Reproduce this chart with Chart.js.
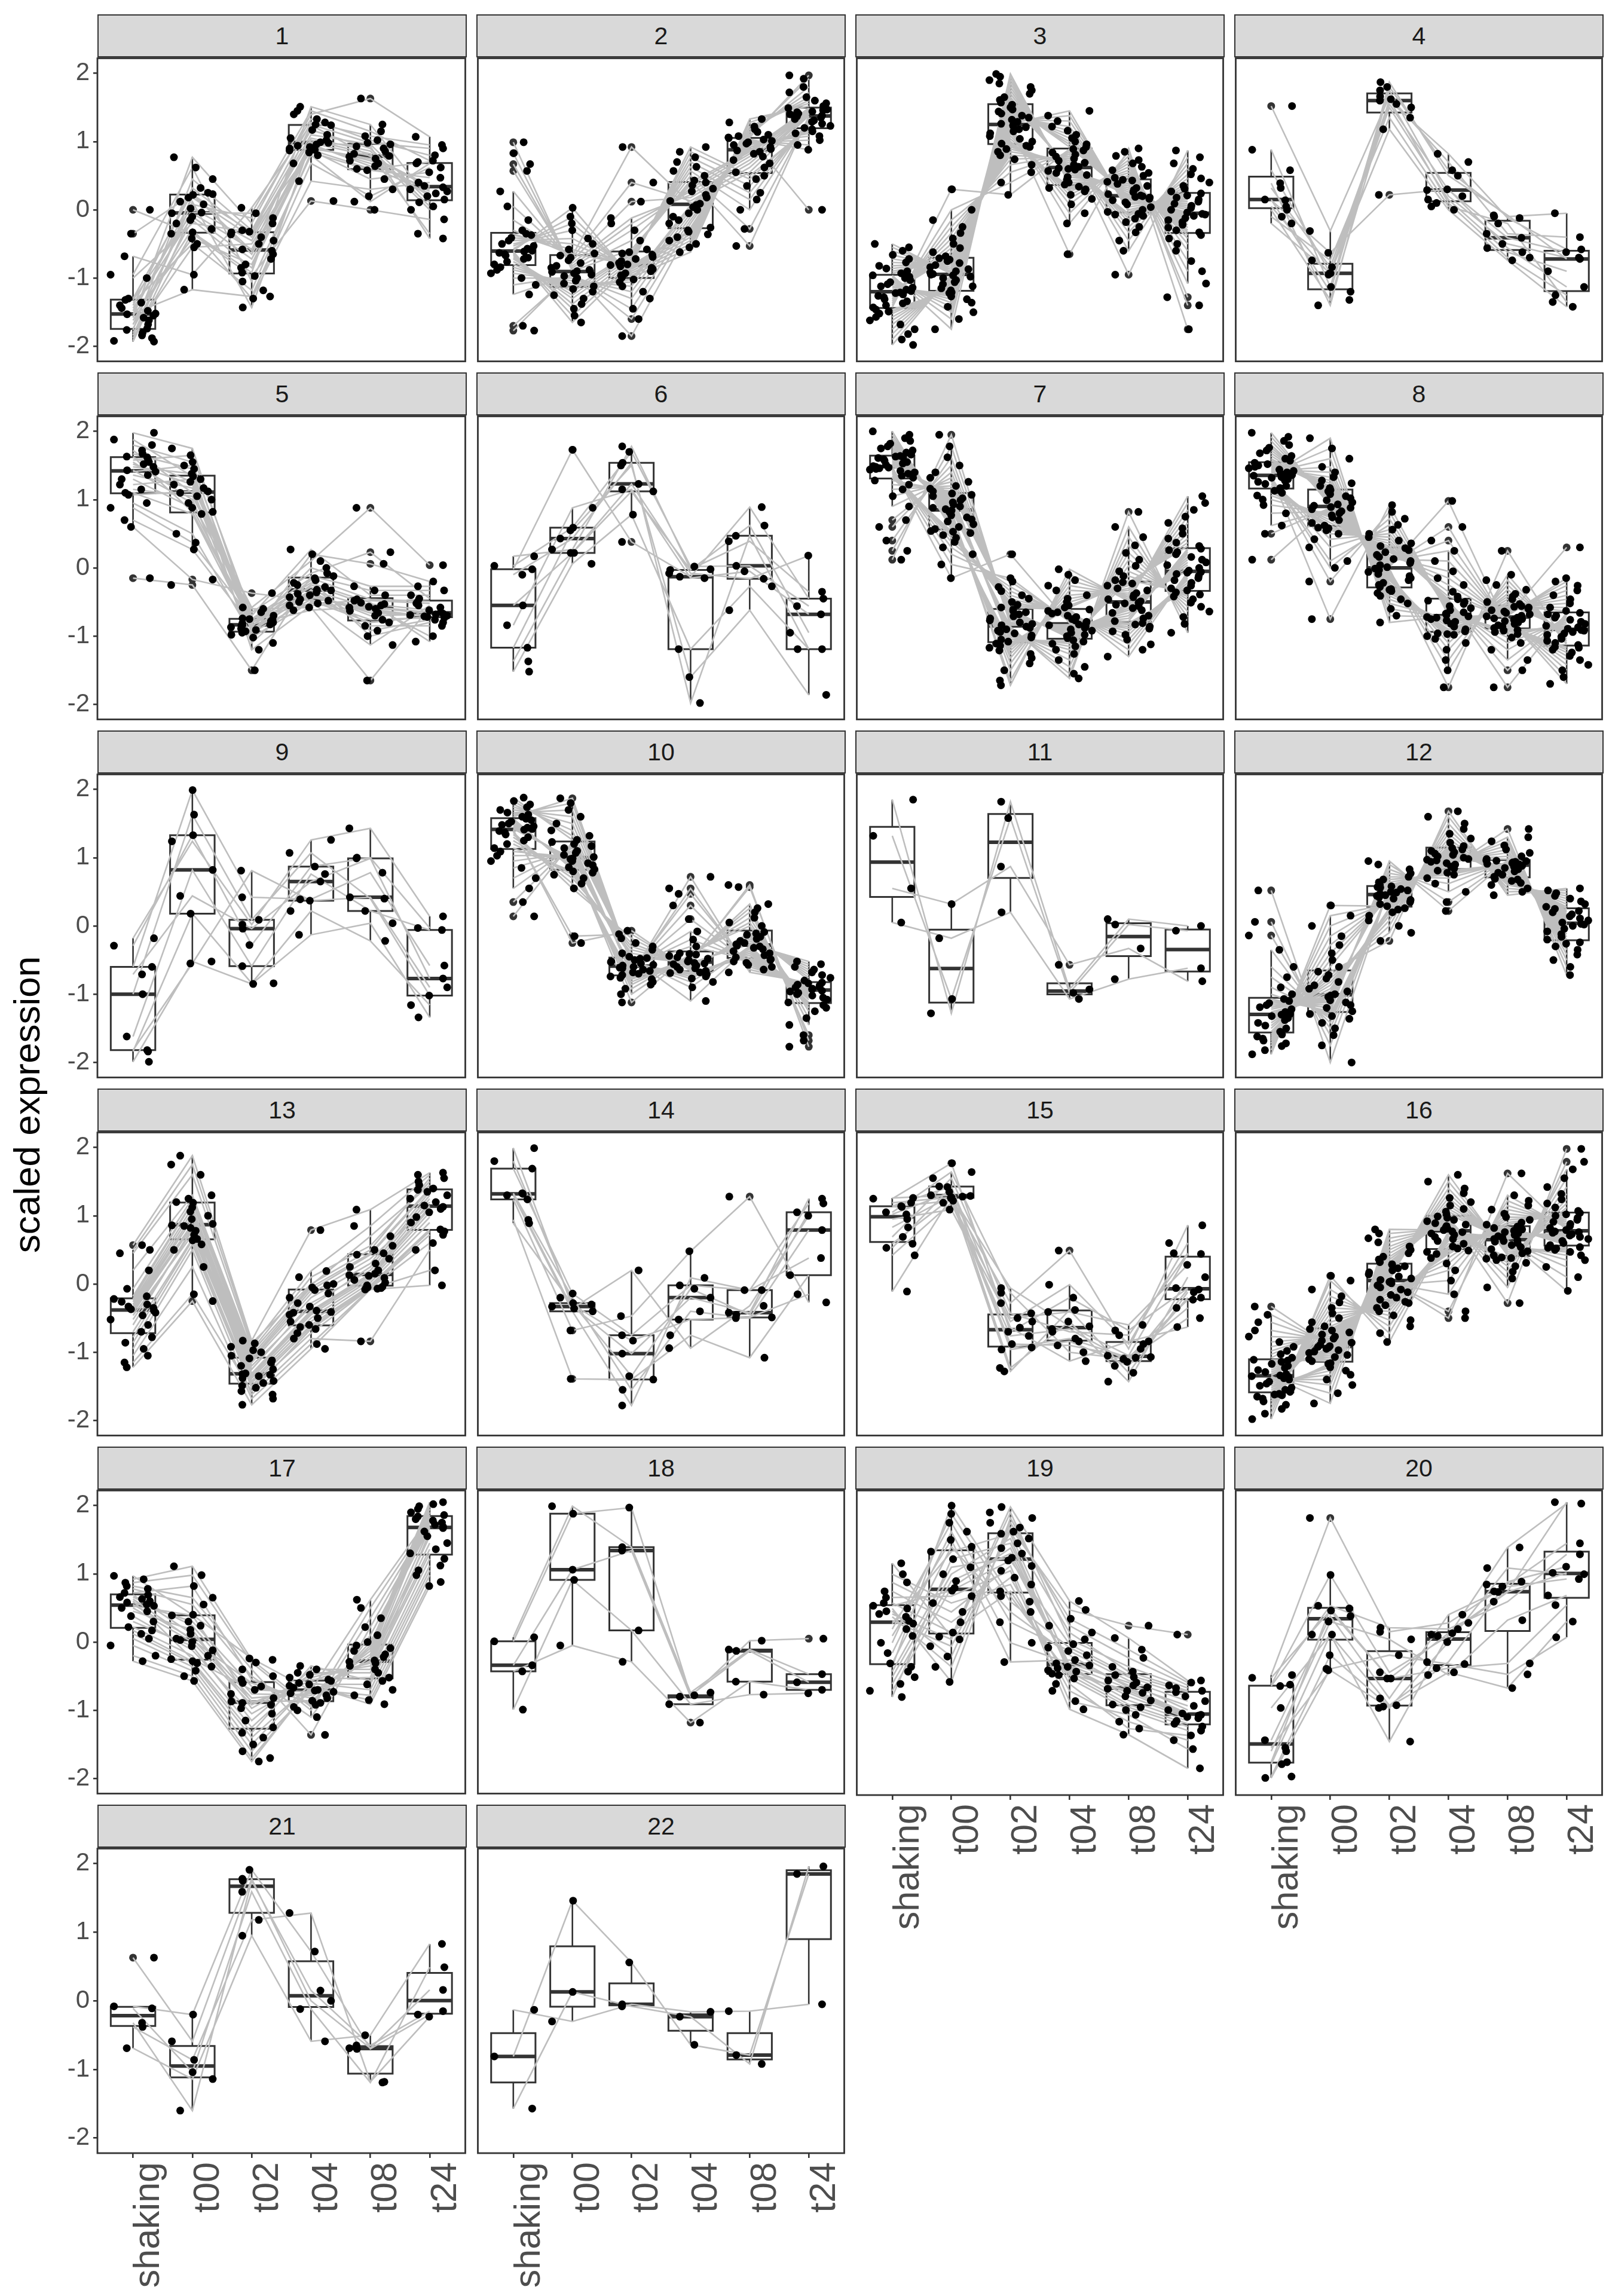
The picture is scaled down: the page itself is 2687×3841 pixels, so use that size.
<!DOCTYPE html>
<html>
<head>
<meta charset="utf-8">
<title>scaled expression per cluster</title>
<script src="https://cdn.jsdelivr.net/npm/chart.js@4.4.1/dist/chart.umd.min.js"></script>
<style>
  html, body { margin: 0; padding: 0; background: #fff; overflow: hidden; }
  #page { position: relative; width: 2687px; height: 3841px; background: #fff;
          font-family: 'Liberation Sans', Arial, Helvetica, sans-serif; }
  .strip { position: absolute; box-sizing: border-box; background: #d9d9d9; border: 2.5px solid #333;
           color: #1a1a1a; font-size: 41px; display: flex; align-items: center; justify-content: center; }
  .panel { position: absolute; }
  #ytitle { position: absolute; left: 44px; top: 1848px; transform: translate(-50%, -50%) rotate(-90deg);
            font-size: 62px; color: #000; white-space: nowrap; }
</style>
</head>
<body>
<div id="page"><div id="ytitle">scaled expression</div></div>
<script>
// ── Data: one array per time point, one entry per gene (same index = same gene) ──
var TIMES = ['shaking', 't00', 't02', 't04', 't08', 't24'];
var Y_TICKS = [-2, -1, 0, 1, 2];

var C1 = [
  [-1.93,-1.92,-1.88,-1.84,-1.80,-1.76,-1.74,-1.68,-1.62,-1.58,-1.55,-1.53,-1.52,-1.48,-1.44,-1.40,-1.36,-1.32,-1.30,-1.00,-0.95,-0.68,-0.35,0.00],
  [-0.05,0.22,-0.33,0.12,-0.55,0.45,-0.15,0.02,-0.28,0.77,-0.42,0.18,-1.17,0.08,-0.10,0.32,-0.50,-0.04,0.25,-0.20,0.62,-0.95,0.23,-0.35],
  [-0.58,-0.32,-0.92,-1.43,-0.50,-0.30,-0.85,-0.45,-1.30,-0.20,-0.80,-0.40,-1.27,-0.12,-0.72,-0.36,-1.18,-0.05,-0.65,-0.33,-1.05,0.03,-0.60,-0.97],
  [1.24,0.88,1.51,0.99,0.87,1.28,0.92,1.05,0.42,1.40,0.96,1.10,0.68,1.33,0.90,1.02,0.84,1.45,0.94,1.17,0.80,1.25,0.98,0.13],
  [0.78,0.60,1.25,0.93,0.45,1.08,0.72,0.86,0.30,1.63,0.64,0.96,0.20,1.02,0.75,0.82,0.58,1.15,0.68,0.90,0.12,0.98,0.79,0.00],
  [0.33,0.70,0.15,-0.42,0.55,0.95,0.27,0.00,0.40,1.07,0.24,0.11,0.62,0.80,0.20,-0.35,0.47,0.72,0.30,0.05,0.68,0.90,0.35,-0.14]
];
var C2 = [
  [-1.77,-0.80,-0.60,-0.30,-1.70,-0.76,-0.57,-0.15,-1.24,-0.72,-0.53,0.05,-1.10,-0.70,-0.50,0.27,-1.00,-0.67,-0.45,0.57,-0.93,-0.65,-0.41,0.67,-0.88,-0.63,-0.37,0.83,-0.84,-0.61,-0.35,0.99],
  [-0.91,-1.16,0.03,-0.67,-0.93,-1.20,-0.10,-0.70,-0.95,-1.25,-0.20,-0.74,-0.97,-1.30,-0.30,-0.78,-1.00,-1.38,-0.42,-0.82,-1.04,-1.45,-0.50,-0.85,-1.08,-1.55,-0.58,-0.88,-1.12,-1.65,-0.64,-0.90],
  [-1.85,-0.62,-0.99,0.92,-1.60,-0.64,-0.96,0.40,-1.45,-0.66,-0.93,0.12,-1.30,-0.69,-0.90,-0.12,-1.20,-0.72,-0.87,-0.20,-1.12,-0.75,-0.85,-0.30,-1.06,-0.78,-0.83,-0.45,-1.02,-0.80,-0.81,-0.58],
  [-0.26,0.43,-0.62,0.09,-0.20,0.50,-0.55,0.13,-0.15,0.57,-0.50,0.18,-0.10,0.63,-0.45,0.22,-0.05,0.70,-0.40,0.27,0.00,0.77,-0.36,0.31,0.04,0.85,-0.32,0.36,0.07,0.92,-0.30,0.40],
  [1.05,-0.53,1.33,0.55,1.03,-0.28,1.28,0.62,1.01,0.00,1.22,0.68,0.99,0.15,1.18,0.73,0.97,0.25,1.14,0.78,0.95,0.35,1.10,0.82,0.92,0.45,1.08,0.85,0.89,0.50,1.06,0.87],
  [0.00,1.37,1.52,1.38,0.88,1.35,1.56,1.40,0.95,1.33,1.60,1.41,1.02,1.31,1.65,1.43,1.08,1.29,1.72,1.44,1.12,1.26,1.80,1.46,1.15,1.23,1.92,1.47,1.18,1.20,1.97,1.49]
];
var C3 = [
  [-1.98,-1.43,-1.19,-0.93,-1.90,-1.40,-1.17,-0.90,-1.82,-1.37,-1.14,-0.86,-1.75,-1.34,-1.12,-0.82,-1.68,-1.31,-1.09,-0.77,-1.62,-1.28,-1.06,-0.72,-1.57,-1.26,-1.03,-0.66,-1.52,-1.24,-1.00,-0.60,-1.49,-1.22,-0.98,-0.55,-1.46,-1.21,-0.96,-0.50],
  [-0.95,0.30,-1.21,-0.71,-0.96,0.00,-1.22,-0.73,-0.98,-0.15,-1.24,-0.75,-1.00,-0.25,-1.27,-0.78,-1.03,-0.34,-1.31,-0.81,-1.06,-0.42,-1.36,-0.84,-1.09,-0.50,-1.42,-0.87,-1.12,-0.56,-1.50,-0.90,-1.15,-0.62,-1.60,-0.92,-1.18,-0.68,-1.75,-0.94],
  [1.26,0.22,1.57,0.97,1.29,0.40,1.61,1.00,1.32,0.55,1.65,1.04,1.35,0.66,1.70,1.08,1.38,0.74,1.75,1.12,1.41,0.80,1.80,1.15,1.44,0.85,1.85,1.18,1.47,0.89,1.90,1.21,1.50,0.92,1.95,1.23,1.54,0.94,1.99,1.24],
  [1.45,0.89,0.61,0.34,1.38,0.87,0.60,0.32,1.30,0.84,0.59,0.30,1.22,0.81,0.57,0.27,1.16,0.78,0.54,0.22,1.10,0.75,0.51,0.16,1.05,0.72,0.48,0.08,1.00,0.69,0.44,-0.05,0.96,0.66,0.40,-0.20,0.92,0.63,0.37,-0.65],
  [-0.03,-0.95,0.21,0.47,0.00,-0.60,0.23,0.50,0.04,-0.45,0.26,0.54,0.08,-0.33,0.29,0.58,0.11,-0.25,0.32,0.63,0.14,-0.18,0.35,0.68,0.16,-0.13,0.38,0.73,0.18,-0.09,0.41,0.79,0.19,-0.07,0.43,0.85,0.20,-0.06,0.44,0.90],
  [0.24,0.87,-0.06,-0.37,0.21,0.77,-0.07,-0.42,0.18,0.68,-0.09,-0.50,0.15,0.60,-0.12,-0.60,0.12,0.52,-0.15,-0.75,0.09,0.46,-0.18,-0.90,0.06,0.40,-0.22,-1.08,0.03,0.35,-0.26,-1.28,0.00,0.31,-0.30,-1.40,-0.04,0.27,-0.33,-1.75]
];
var C4 = [
  [1.52,0.88,0.58,0.39,0.32,0.15,0.14,0.05,0.00,-0.10,-0.20],
  [-0.31,-1.13,-0.93,-1.40,-0.84,-1.20,-0.63,-0.95,-1.32,-0.74,-0.93],
  [1.66,1.80,1.60,1.87,1.55,1.75,0.22,1.50,1.62,1.35,1.18],
  [0.70,0.58,0.82,0.50,0.29,0.20,0.30,0.15,0.10,0.05,0.00],
  [-0.35,-0.10,-0.12,-0.08,-0.41,-0.50,-0.56,-0.62,-0.70,-0.20,-0.74],
  [-0.40,-0.05,-0.58,-0.72,-0.62,-0.70,-1.13,-0.90,-1.25,-1.35,-1.42]
];
var C5 = [
  [1.98,1.88,1.80,1.72,1.67,1.63,1.62,1.58,1.55,1.52,1.48,1.43,1.41,1.36,1.30,1.22,1.15,1.10,1.07,0.95,0.88,0.70,0.60,-0.15],
  [1.75,1.34,1.55,1.10,1.45,0.82,1.26,1.65,1.00,1.22,1.38,0.95,1.50,1.17,0.88,1.30,1.05,0.79,1.12,0.50,0.37,0.27,-0.17,-0.25],
  [-0.84,-0.75,-0.95,-0.58,-1.20,-0.81,-0.89,-0.70,-1.02,-0.76,-0.93,-0.65,-0.83,-1.10,-0.78,-0.87,-0.60,-0.91,-0.80,-0.98,-0.74,-0.85,-0.37,-1.50],
  [-0.33,-0.15,-0.46,0.10,-0.55,-0.28,-0.40,0.27,-0.50,-0.22,-0.36,-0.08,-0.62,-0.32,-0.43,0.00,-0.58,-0.25,-0.38,0.20,-0.52,-0.18,-0.48,-0.12],
  [-0.58,-0.46,-0.76,0.88,-0.53,-0.85,-0.63,-0.40,-1.13,-0.51,-0.70,0.23,-0.57,-0.92,-0.60,-0.27,-1.65,-0.55,-0.66,0.06,-0.48,-1.00,-0.80,-0.33],
  [-0.67,-0.49,-0.73,0.04,-0.62,-0.85,-0.70,-0.40,-0.55,-1.08,-0.68,-0.45,-0.65,-0.76,-0.72,-0.27,-0.58,-1.00,-0.69,-0.20,-0.52,-0.80,-0.71,-0.33]
];
var C6 = [
  [0.17,0.03,-0.02,-0.10,-0.55,-0.84,-1.17,-1.37,-1.52],
  [0.27,0.59,1.73,0.43,0.22,0.88,0.55,0.22,0.06],
  [1.78,1.70,0.38,1.54,1.23,1.15,1.50,1.12,0.78],
  [-0.02,0.02,-0.13,-1.98,-0.08,-0.15,-1.60,-0.03,-1.19],
  [0.39,0.03,0.89,0.47,-0.16,-0.05,-0.62,0.62,-0.27],
  [-0.35,-0.56,-0.45,-1.19,0.18,-0.68,-1.86,-0.95,-1.19]
];
var C7 = [
  [1.32,1.49,1.66,0.12,1.35,1.51,1.69,0.25,1.38,1.53,1.72,0.40,1.40,1.55,1.75,0.60,1.42,1.57,1.78,0.70,1.44,1.59,1.82,0.90,1.45,1.61,1.86,1.05,1.46,1.62,1.90,1.15,1.47,1.63,1.95,1.22,1.48,1.64,2.00,1.28],
  [0.54,1.09,0.84,1.95,0.53,1.07,0.82,1.78,0.51,1.05,0.80,1.62,0.48,1.02,0.77,1.50,0.44,0.99,0.74,1.40,0.38,0.96,0.71,1.32,0.30,0.93,0.68,1.26,0.20,0.90,0.64,1.20,0.05,0.88,0.60,1.16,-0.15,0.86,0.57,1.12],
  [-0.58,-1.08,-1.72,-0.84,-0.54,-1.05,-1.65,-0.82,-0.50,-1.02,-1.50,-0.80,-0.45,-0.99,-1.40,-0.77,-0.40,-0.96,-1.32,-0.74,-0.34,-0.94,-1.26,-0.71,-0.28,-0.92,-1.21,-0.68,-0.20,-0.90,-1.17,-0.65,-0.15,-0.88,-1.14,-0.63,0.20,-0.86,-1.11,-0.61],
  [-0.61,-1.06,-0.02,-0.83,-0.63,-1.08,-0.10,-0.84,-0.65,-1.11,-0.18,-0.86,-0.67,-1.15,-0.26,-0.88,-0.70,-1.20,-0.33,-0.90,-0.72,-1.26,-0.40,-0.92,-0.75,-1.35,-0.45,-0.95,-0.77,-1.45,-0.50,-0.98,-0.79,-1.55,-0.55,-1.00,-0.81,-1.62,-0.58,-1.03],
  [-1.30,-0.18,-0.49,-0.78,-1.20,-0.12,-0.46,-0.74,-1.12,-0.05,-0.43,-0.70,-1.05,0.03,-0.40,-0.66,-0.98,0.12,-0.37,-0.62,-0.93,0.22,-0.33,-0.59,-0.89,0.33,-0.30,-0.56,-0.86,0.45,-0.26,-0.54,-0.83,0.60,-0.23,-0.52,-0.81,0.82,-0.21,-0.51],
  [-0.06,-0.36,1.05,0.28,-0.07,-0.39,0.95,0.26,-0.09,-0.42,0.85,0.23,-0.12,-0.46,0.75,0.20,-0.15,-0.51,0.66,0.16,-0.18,-0.57,0.58,0.12,-0.22,-0.64,0.50,0.08,-0.26,-0.72,0.43,0.04,-0.30,-0.82,0.37,0.00,-0.33,-0.95,0.32,-0.04]
];
var C8 = [
  [1.36,0.12,1.57,1.17,1.38,0.50,1.60,1.20,1.40,0.62,1.64,1.23,1.42,0.80,1.68,1.26,1.44,0.92,1.72,1.28,1.46,1.00,1.76,1.30,1.48,1.06,1.80,1.32,1.50,1.10,1.86,1.33,1.52,1.13,1.92,1.34,1.54,1.14,1.98,1.35],
  [1.90,0.89,1.14,0.59,1.75,0.88,1.12,0.58,1.60,0.86,1.10,0.55,1.48,0.83,1.08,0.50,1.40,0.80,1.05,0.42,1.33,0.77,1.02,0.30,1.28,0.74,0.99,0.10,1.24,0.70,0.96,0.00,1.20,0.66,0.93,-0.20,1.17,0.62,0.91,-0.75],
  [-0.80,0.01,-0.28,0.32,-0.70,0.04,-0.25,0.36,-0.60,0.07,-0.22,0.40,-0.52,0.10,-0.18,0.45,-0.46,0.13,-0.15,0.50,-0.41,0.16,-0.12,0.56,-0.37,0.19,-0.09,0.63,-0.34,0.23,-0.06,0.72,-0.32,0.26,-0.03,0.82,-0.31,0.29,-0.01,0.92],
  [-0.71,0.98,-0.96,-0.46,-0.72,0.60,-0.97,-0.48,-0.73,0.40,-0.98,-0.50,-0.75,0.25,-1.00,-0.53,-0.77,0.10,-1.04,-0.56,-0.79,-0.05,-1.10,-0.59,-0.82,-0.15,-1.20,-0.62,-0.86,-0.25,-1.35,-0.65,-0.90,-0.35,-1.50,-0.67,-0.93,-0.42,-1.75,-0.69],
  [-0.71,-0.88,-0.53,-1.75,-0.70,-0.86,-0.50,-1.50,-0.68,-0.84,-0.46,-1.35,-0.66,-0.82,-0.42,-1.20,-0.64,-0.80,-0.38,-1.10,-0.62,-0.78,-0.32,-1.02,-0.60,-0.76,-0.25,-0.97,-0.58,-0.75,-0.18,-0.94,-0.57,-0.74,-0.10,-0.92,-0.56,-0.73,0.25,-0.91],
  [0.30,-1.16,-0.91,-0.66,-0.15,-1.17,-0.92,-0.68,-0.20,-1.20,-0.94,-0.70,-0.26,-1.24,-0.96,-0.73,-0.33,-1.29,-0.98,-0.76,-0.40,-1.35,-1.01,-0.79,-0.46,-1.42,-1.04,-0.82,-0.52,-1.50,-1.07,-0.85,-0.58,-1.60,-1.10,-0.87,-0.63,-1.70,-1.13,-0.89]
];
var C9 = [
  [-0.18,-0.29,-0.60,-0.71,-1.00,-1.62,-1.82,-1.84,-1.99],
  [1.24,1.33,1.99,0.44,1.63,0.82,-0.55,0.18,-0.52],
  [0.02,-0.28,0.42,-0.04,0.09,-0.59,0.81,-0.84,-0.85],
  [1.26,0.87,0.39,0.65,1.07,0.76,0.37,0.22,-0.13],
  [1.43,1.00,0.78,0.99,0.40,0.22,0.42,-0.22,0.04],
  [0.14,-0.03,-0.58,-0.77,-1.02,-0.06,-0.90,-1.16,-1.34]
];
var C10 = [
  [0.14,1.14,1.42,1.60,0.35,1.20,1.44,1.63,0.55,1.25,1.46,1.66,0.70,1.30,1.48,1.70,0.85,1.34,1.50,1.74,0.95,1.37,1.53,1.78,1.03,1.39,1.55,1.83,1.09,1.41,1.57,1.88],
  [1.23,0.80,0.99,1.87,1.20,0.78,0.98,1.80,1.17,0.75,0.97,1.70,1.14,0.70,0.95,1.60,1.10,0.62,0.92,1.50,1.07,0.55,0.89,1.40,1.04,-0.15,0.86,1.32,1.01,-0.25,0.83,1.26],
  [-0.72,-0.45,-1.12,-0.58,-0.70,-0.40,-1.00,-0.57,-0.68,-0.35,-0.92,-0.55,-0.66,-0.30,-0.86,-0.53,-0.64,-0.25,-0.82,-0.52,-0.62,-0.18,-0.78,-0.50,-0.61,-0.12,-0.76,-0.48,-0.60,-0.07,-0.74,-0.47],
  [0.72,-0.54,-0.40,-0.68,0.55,-0.55,-0.41,-0.69,0.47,-0.56,-0.42,-0.71,0.30,-0.58,-0.44,-0.74,0.10,-0.60,-0.46,-0.77,-0.08,-0.62,-0.48,-0.82,-0.20,-0.64,-0.50,-0.90,-0.30,-0.66,-0.52,-1.10],
  [-0.68,-0.27,0.00,-0.46,-0.64,-0.25,0.05,-0.43,-0.60,-0.22,0.12,-0.40,-0.57,-0.19,0.20,-0.37,-0.54,-0.16,0.26,-0.34,-0.52,-0.13,0.32,-0.32,-0.50,-0.11,0.57,-0.30,-0.49,-0.09,0.60,-0.29],
  [-0.83,-0.52,-1.16,-0.95,-0.84,-0.56,-1.20,-0.96,-0.86,-0.60,-1.25,-0.98,-0.87,-0.64,-1.35,-1.00,-0.89,-0.68,-1.45,-1.02,-0.90,-0.72,-1.60,-1.05,-0.92,-0.76,-1.68,-1.08,-0.93,-0.80,-1.77,-1.12]
];
var C11 = [
  [1.85,1.32,0.55,0.05],
  [-1.28,-1.07,0.32,-0.18],
  [1.82,1.58,0.87,0.20],
  [-0.93,-0.98,-0.57,-1.07],
  [0.10,0.02,-0.33,-0.78],
  [0.00,-0.07,-0.81,-0.62]
];
var C12 = [
  [-1.00,-1.88,-1.29,-1.55,-0.90,-1.82,-1.26,-1.50,-0.75,-1.76,-1.22,-1.46,-0.60,-1.72,-1.19,-1.42,-0.35,-1.68,-1.16,-1.38,-0.14,-1.65,-1.13,-1.35,0.06,-1.62,-1.10,-1.32,0.52,-1.59,-1.07,-1.30],
  [-1.29,0.30,-1.02,-0.67,-1.32,0.15,-1.04,-0.72,-1.36,0.00,-1.06,-0.77,-1.42,-0.15,-1.09,-0.82,-1.50,-0.28,-1.12,-0.87,-1.60,-0.40,-1.16,-0.92,-1.75,-0.50,-1.20,-0.96,-2.00,-0.60,-1.25,-1.00],
  [0.47,0.29,0.60,-0.22,0.49,0.32,0.64,-0.10,0.50,0.35,0.68,0.00,0.52,0.38,0.72,0.08,0.54,0.40,0.77,0.15,0.56,0.42,0.83,0.20,0.57,0.44,0.90,0.24,0.58,0.45,0.95,0.26],
  [0.98,1.14,0.81,1.68,0.97,1.12,0.78,1.60,0.96,1.10,0.75,1.50,0.94,1.08,0.70,1.42,0.92,1.06,0.62,1.35,0.90,1.04,0.50,1.28,0.87,1.02,0.35,1.22,0.84,1.00,0.22,1.17],
  [0.98,0.72,0.90,0.45,1.02,0.75,0.91,0.50,1.07,0.78,0.92,0.55,1.12,0.80,0.93,0.60,1.18,0.83,0.94,0.63,1.24,0.85,0.95,0.66,1.30,0.87,0.955,0.68,1.42,0.88,0.96,0.69],
  [-0.24,0.25,0.03,0.55,-0.26,0.22,0.02,0.52,-0.30,0.20,0.00,0.48,-0.35,0.17,-0.04,0.44,-0.42,0.14,-0.08,0.40,-0.50,0.11,-0.12,0.36,-0.60,0.08,-0.16,0.32,-0.72,0.05,-0.20,0.28]
];
var C13 = [
  [-0.39,-0.22,-0.78,0.57,-0.46,-1.22,-0.30,-0.60,0.20,-0.95,-0.35,-0.07,-0.42,-1.05,-0.26,0.45,-0.70,-0.86,-0.33,-0.18,-0.52,-1.15,-0.37,0.50],
  [0.86,1.19,0.64,1.88,0.72,-0.25,1.06,0.82,1.30,0.50,0.95,1.25,0.85,0.25,1.12,1.60,0.66,0.58,1.00,1.20,0.78,-0.15,0.88,1.75],
  [-1.32,-1.09,-1.49,-0.83,-1.35,-1.77,-1.20,-1.42,-0.97,-1.62,-1.31,-1.00,-1.33,-1.68,-1.15,-0.92,-1.45,-1.52,-1.25,-1.05,-1.38,-1.57,-1.12,-0.87],
  [-0.41,-0.09,-0.63,0.79,-0.45,-0.95,-0.33,-0.55,0.10,-0.80,-0.39,-0.02,-0.42,-0.88,-0.20,0.19,-0.60,-0.72,-0.28,-0.05,-0.50,-0.66,-0.14,0.00],
  [0.13,0.43,-0.04,1.09,0.09,-0.08,0.25,0.02,0.56,-0.84,0.15,0.70,0.12,-0.07,0.30,0.85,-0.02,-0.06,0.20,0.45,0.06,-0.05,0.37,0.50],
  [1.13,1.38,0.77,1.63,1.05,-0.02,1.30,0.90,1.50,0.50,1.20,1.45,1.10,0.20,1.35,1.60,0.80,0.60,1.25,1.40,0.98,0.72,1.15,1.55]
];
var C14 = [
  [1.99,1.80,1.69,1.33,1.32,1.30,1.24,0.94,0.89],
  [-0.33,-0.28,-0.14,-0.20,-0.36,-0.40,-0.68,-1.39,-0.30],
  [-1.02,-1.35,-0.75,-1.55,0.20,-1.78,-0.47,-1.40,-0.83],
  [-0.20,-0.07,-0.02,-0.40,-0.94,0.09,0.48,-0.75,-0.52],
  [-0.42,-0.45,-0.09,-0.50,-0.32,-0.09,1.28,-1.08,-0.49],
  [1.25,1.05,1.18,0.79,1.00,0.38,-0.27,0.13,-0.15]
];
var C15 = [
  [1.26,1.25,1.19,1.14,1.13,1.05,1.02,0.95,0.83,0.69,0.59,0.53,0.42,-0.11],
  [1.30,1.77,1.27,1.43,1.22,1.64,1.35,1.09,1.29,1.55,1.26,1.42,1.19,1.28],
  [-0.06,-0.70,-0.28,-0.96,-0.50,-0.13,-1.23,-0.55,-0.88,-0.43,-1.28,-0.64,-0.76,-0.93],
  [-0.62,-0.20,0.49,-0.84,-0.41,-1.00,-0.55,-0.01,-0.90,-0.70,-0.38,-1.13,-0.66,-0.80],
  [-1.05,-0.68,-0.95,-1.20,-0.60,-1.10,-1.43,-0.88,-1.07,-0.75,-1.30,-0.84,-1.14,-1.08],
  [0.44,-0.06,0.86,-0.20,0.28,-0.50,0.10,0.60,-0.35,0.45,-0.12,-0.63,-0.08,-0.23]
];
var C16 = [
  [-1.08,-1.98,-1.58,-1.34,-1.03,-1.90,-1.55,-1.32,-0.98,-1.83,-1.52,-1.29,-0.92,-1.77,-1.49,-1.26,-0.85,-1.72,-1.46,-1.23,-0.77,-1.68,-1.43,-1.20,-0.68,-1.65,-1.40,-1.17,-0.56,-1.63,-1.38,-1.14,-0.45,-1.62,-1.36,-1.12,-0.33,-1.61,-1.35,-1.11],
  [-0.66,0.12,-1.16,-0.92,-0.68,0.05,-1.17,-0.93,-0.71,-0.08,-1.19,-0.95,-0.74,-0.18,-1.22,-0.97,-0.77,-0.27,-1.27,-0.99,-0.80,-0.35,-1.33,-1.01,-0.83,-0.43,-1.40,-1.04,-0.86,-0.50,-1.48,-1.07,-0.89,-0.56,-1.60,-1.10,-0.91,-0.62,-1.75,-1.13],
  [-0.23,-0.85,0.32,0.06,-0.20,-0.72,0.36,0.08,-0.16,-0.62,0.40,0.11,-0.12,-0.53,0.45,0.14,-0.08,-0.46,0.50,0.17,-0.05,-0.40,0.55,0.20,-0.02,-0.35,0.61,0.23,0.01,-0.31,0.67,0.26,0.03,-0.28,0.74,0.28,0.04,-0.26,0.80,0.29],
  [0.49,0.77,0.99,1.60,0.47,0.76,0.97,1.50,0.44,0.74,0.94,1.40,0.38,0.72,0.92,1.33,0.30,0.69,0.89,1.26,0.20,0.66,0.87,1.20,0.05,0.63,0.85,1.15,-0.15,0.59,0.83,1.10,-0.40,0.55,0.81,1.06,-0.50,0.52,0.79,1.02],
  [0.87,0.66,-0.28,0.42,0.90,0.68,-0.05,0.45,0.94,0.70,0.08,0.48,0.98,0.72,0.18,0.51,1.03,0.74,0.26,0.54,1.09,0.76,0.31,0.57,1.15,0.78,0.35,0.60,1.22,0.80,0.37,0.62,1.30,0.82,0.38,0.63,1.62,0.84,0.39,0.64],
  [1.04,0.77,1.98,0.54,1.02,0.76,1.79,0.53,1.00,0.75,1.68,0.52,0.97,0.73,1.55,0.50,0.94,0.71,1.42,0.47,0.91,0.69,1.32,0.42,0.88,0.66,1.24,0.35,0.85,0.63,1.18,0.25,0.82,0.60,1.12,0.10,0.79,0.57,1.07,-0.10]
];
var C17 = [
  [0.53,0.97,0.17,0.63,-0.28,0.82,0.45,0.69,0.05,0.92,0.30,0.58,-0.20,0.78,0.50,0.66,0.12,0.87,0.22,0.55,-0.05,0.72,0.38,0.60],
  [0.39,0.40,-0.28,0.03,-0.57,0.65,0.18,0.12,-0.36,1.11,-0.06,0.30,-0.50,0.55,0.00,0.24,-0.31,0.98,-0.20,0.05,-0.42,0.82,-0.12,-0.25],
  [-0.89,-0.24,-1.33,-0.60,-1.75,-0.40,-0.97,-0.82,-1.50,-0.26,-1.15,-0.65,-1.70,-0.50,-0.92,-0.76,-1.40,-0.30,-1.25,-0.87,-1.60,-0.55,-1.05,-0.70],
  [-0.57,-0.71,-0.35,-0.89,-0.64,-1.36,-0.48,-0.75,-0.60,-0.95,-0.40,-0.82,-0.67,-1.10,-0.52,-0.78,-0.62,-1.00,-0.45,-0.86,-0.70,-0.92,-0.55,-0.73],
  [-0.29,0.62,-0.57,-0.05,-0.91,0.22,-0.35,-0.18,-0.70,0.50,-0.40,-0.09,-0.85,0.10,-0.31,-0.13,-0.62,0.35,-0.45,-0.22,-0.78,0.00,-0.52,-0.27],
  [1.67,1.84,1.22,2.05,0.82,1.75,1.45,1.90,1.05,1.80,1.36,1.99,0.88,1.72,1.55,1.95,1.12,1.78,1.30,2.02,0.98,1.69,1.62,1.86]
];
var C18 = [
  [0.07,0.01,-0.34,-0.43,-0.99],
  [1.99,1.88,1.06,-0.05,0.91],
  [1.39,1.97,1.34,-0.29,0.17],
  [-0.74,-0.78,-0.80,-1.18,-0.91],
  [-0.11,-0.13,0.02,-0.58,-0.77],
  [-0.47,-0.59,0.05,-0.70,-0.75]
];
var C19 = [
  [0.28,0.54,-0.35,1.16,-0.79,0.66,0.20,0.50,-0.42,1.00,0.10,0.46,-0.50,0.88,0.00,0.42,-0.60,0.75,-0.15,0.38,-0.70,0.58,-0.30,0.32],
  [1.33,0.76,2.00,0.09,1.22,0.68,1.75,-0.57,1.10,0.58,1.50,-0.20,1.00,0.45,1.88,0.05,0.90,0.30,1.62,-0.35,0.80,0.15,1.40,-0.05],
  [1.59,1.20,0.68,1.98,1.45,1.05,0.30,1.82,1.24,0.85,-0.28,1.68,1.52,1.12,0.60,1.90,1.30,0.95,0.00,1.75,1.38,0.75,0.45,1.62],
  [-0.33,-0.02,-0.47,0.61,-0.40,-0.97,-0.12,0.25,-0.37,-0.70,-0.25,0.48,-0.45,-0.85,-0.07,0.05,-0.35,-0.60,-0.30,0.35,-0.42,-0.52,-0.18,0.15],
  [-0.67,-0.47,-0.94,0.07,-0.73,-1.34,-0.55,-0.22,-0.84,-1.15,-0.62,0.25,-0.70,-1.05,-0.50,-0.35,-0.78,-1.25,-0.58,-0.10,-0.90,-0.98,-0.65,-0.42],
  [-1.05,-0.72,-1.22,-0.55,-1.08,-1.83,-0.85,-0.62,-1.14,-1.42,-0.92,0.12,-1.06,-1.55,-0.78,-0.66,-1.10,-1.35,-0.98,-0.58,-1.18,-1.28,-1.03,-0.70]
];
var C20 = [
  [-0.47,-0.51,-0.61,-0.63,-0.95,-1.42,-1.53,-1.58,-1.74,-1.77,-1.95,-1.97],
  [1.82,0.47,0.99,0.54,0.12,0.39,-0.40,0.31,0.50,0.12,-0.18,-0.38],
  [0.16,-0.52,-0.43,0.22,-0.91,-0.81,-0.95,0.05,-0.52,-1.44,-0.93,-0.18],
  [0.29,0.14,0.10,0.20,-0.28,0.41,0.01,-0.47,-0.37,0.12,-0.43,-0.31],
  [0.85,0.75,1.39,0.60,0.89,0.82,1.09,0.33,-0.30,0.74,-0.66,-0.46],
  [1.45,2.05,2.03,1.29,1.11,0.93,1.00,0.69,0.55,1.02,0.31,0.08]
];
var C21 = [
  [0.63,-0.08,-0.11,-0.32,-0.38,-0.69],
  [-0.59,-0.20,-1.04,-1.60,-0.86,-1.14],
  [1.78,1.91,1.59,1.75,1.18,0.95],
  [0.00,0.72,-0.12,0.15,1.28,-0.59],
  [-0.69,-0.70,-1.19,-0.65,-1.18,-0.50],
  [0.16,-0.20,0.49,-0.15,-0.23,0.83]
];
var C22 = [
  [-0.13,-0.81,-1.57],
  [-0.30,1.46,0.13],
  [-0.05,0.56,-0.08],
  [-0.16,-0.64,-0.23],
  [-0.15,-0.79,-0.92],
  [-0.05,1.85,1.96]
];
var CLUSTERS = [C1, C2, C3, C4, C5, C6, C7, C8, C9, C10, C11, C12, C13, C14, C15, C16, C17, C18, C19, C20, C21, C22];

// ── Layout (px, full-size page) ───────────────────────────────
var FONT = "'Liberation Sans', Arial, Helvetica, sans-serif";
var PLOT_LEFT = 163, COL_STEP = 634, PLOT_W = 618;
var PLOT_TOP = 95, ROW_STEP = 599, PLOT_H = 512, STRIP_H = 71;
var PAD = 4, Y_AXIS_W = 120, X_AXIS_H = 234;
var BOX_HALF = 0.375, JITTER = 0.38, DOT_R = 6.5;

// ── Boxplot statistics (R type-7 quantiles, 1.5 IQR whiskers) ──
function quantile(s, p) {
  var h = (s.length - 1) * p, lo = Math.floor(h);
  var hi = Math.min(lo + 1, s.length - 1);
  return s[lo] + (h - lo) * (s[hi] - s[lo]);
}
function boxStats(vals) {
  var s = vals.slice().sort(function (a, b) { return a - b; });
  var q1 = quantile(s, 0.25), med = quantile(s, 0.5), q3 = quantile(s, 0.75);
  var iqr = q3 - q1, loF = q1 - 1.5 * iqr, hiF = q3 + 1.5 * iqr;
  var inside = s.filter(function (v) { return v >= loF && v <= hiF; });
  return {
    q1: q1, med: med, q3: q3,
    lo: inside[0], hi: inside[inside.length - 1],
    out: s.filter(function (v) { return v < loF || v > hiF; })
  };
}

// horizontal jitter of a point: a fixed hash of (gene, time), in [-1, 1)
function jitterOffset(g, t) {
  var h = Math.sin(g * 12.9898 + t * 78.233 + 0.5) * 43758.5453;
  return (h - Math.floor(h)) * 2 - 1;
}

function buildDatasets(cols) {
  var pts = [], lines = [], boxes = [], meds = [], whisk = [], outl = [];
  var n = cols[0].length;
  for (var g = 0; g < n; g++) {
    for (var t = 0; t < cols.length; t++) {
      var v = cols[t][g];
      lines.push({ x: t + 1, y: v });
      pts.push({ x: t + 1 + jitterOffset(g, t) * JITTER, y: v });
    }
    lines.push({ x: 6.5, y: null });
  }
  cols.forEach(function (vals, t) {
    var x = t + 1, b = boxStats(vals);
    boxes.push({ x: x - BOX_HALF, y: b.q1 }, { x: x + BOX_HALF, y: b.q1 }, { x: x + BOX_HALF, y: b.q3 },
               { x: x - BOX_HALF, y: b.q3 }, { x: x - BOX_HALF, y: b.q1 }, { x: x + BOX_HALF, y: b.q1 },
               { x: x, y: null });
    meds.push({ x: x - BOX_HALF, y: b.med }, { x: x + BOX_HALF, y: b.med }, { x: x, y: null });
    whisk.push({ x: x, y: b.q3 }, { x: x, y: b.hi }, { x: x, y: null },
               { x: x, y: b.q1 }, { x: x, y: b.lo }, { x: x, y: null });
    b.out.forEach(function (o) { outl.push({ x: x, y: o }); });
  });
  var seg = { type: 'line', pointRadius: 0, spanGaps: false, tension: 0, fill: false };
  return [
    { type: 'scatter', data: pts, pointRadius: DOT_R, pointBackgroundColor: '#000000', pointBorderWidth: 0, order: 0 },
    Object.assign({}, seg, { data: lines, borderColor: '#bebebe', borderWidth: 2.6, order: 1 }),
    { type: 'scatter', data: outl, pointRadius: DOT_R, pointBackgroundColor: '#333333', pointBorderWidth: 0, order: 2 },
    Object.assign({}, seg, { data: meds, borderColor: '#333333', borderWidth: 6, borderCapStyle: 'butt', order: 3 }),
    Object.assign({}, seg, { data: boxes, borderColor: '#333333', borderWidth: 3, borderJoinStyle: 'miter', order: 4 }),
    Object.assign({}, seg, { data: whisk, borderColor: '#333333', borderWidth: 2.6, order: 5 })
  ];
}

// ── Panel border drawn around the chart area ──
var panelBorder = {
  id: 'panelBorder',
  afterDatasetsDraw: function (chart) {
    var a = chart.chartArea, ctx = chart.ctx;
    ctx.save();
    ctx.strokeStyle = '#333333';
    ctx.lineWidth = 2.8;
    ctx.strokeRect(a.left, a.top, a.right - a.left, a.bottom - a.top);
    ctx.restore();
  }
};

var page = document.getElementById('page');

function makePanel(i) {
  var col = i % 4, row = Math.floor(i / 4);
  var hasY = col === 0, hasX = i >= 18;
  var left = PLOT_LEFT + col * COL_STEP, top = PLOT_TOP + row * ROW_STEP;

  var w = PLOT_W + 2 * PAD + (hasY ? Y_AXIS_W : 0);
  var h = PLOT_H + PAD + (hasX ? X_AXIS_H : PAD);
  var holder = document.createElement('div');
  holder.className = 'panel';
  holder.style.left = (left - PAD - (hasY ? Y_AXIS_W : 0)) + 'px';
  holder.style.top = (top - PAD) + 'px';
  holder.style.width = w + 'px';
  holder.style.height = h + 'px';
  var canvas = document.createElement('canvas');
  canvas.width = w; canvas.height = h;
  canvas.style.width = w + 'px'; canvas.style.height = h + 'px';
  holder.appendChild(canvas);
  page.appendChild(holder);

  var strip = document.createElement('div');
  strip.className = 'strip';
  strip.textContent = String(i + 1);
  strip.style.left = left + 'px';
  strip.style.top = (top - STRIP_H) + 'px';
  strip.style.width = PLOT_W + 'px';
  strip.style.height = (STRIP_H + 1) + 'px';
  page.appendChild(strip);

  new Chart(canvas.getContext('2d'), {
    type: 'scatter',
    data: { datasets: buildDatasets(CLUSTERS[i]) },
    options: {
      responsive: false,
      animation: false,
      devicePixelRatio: 1,
      events: [],
      layout: { padding: { left: PAD, right: PAD, top: PAD, bottom: hasX ? 0 : PAD } },
      plugins: { legend: { display: false }, tooltip: { enabled: false } },
      scales: {
        x: {
          type: 'linear', min: 0.4, max: 6.6, display: hasX,
          afterBuildTicks: function (s) { s.ticks = TIMES.map(function (_, j) { return { value: j + 1 }; }); },
          afterFit: function (s) {
            if (!hasX) return;
            s.height = X_AXIS_H; s.paddingLeft = 0; s.paddingRight = 0;
          },
          ticks: {
            autoSkip: false, minRotation: 90, maxRotation: 90, padding: 7, labelOffset: 27,
            color: '#4d4d4d', font: { family: FONT, size: 61 },
            callback: function (v) { return TIMES[Math.round(v) - 1]; }
          },
          grid: { drawOnChartArea: false, drawTicks: true, tickLength: 8, color: '#333333', lineWidth: 2.6 },
          border: { display: false }
        },
        y: {
          type: 'linear', min: -2.22, max: 2.22, display: hasY,
          afterBuildTicks: function (s) { s.ticks = Y_TICKS.map(function (v) { return { value: v }; }); },
          afterFit: function (s) {
            if (!hasY) return;
            s.width = Y_AXIS_W; s.paddingTop = 0; s.paddingBottom = 0;
          },
          ticks: {
            padding: 6, color: '#4d4d4d', font: { family: FONT, size: 42 },
            callback: function (v) { return String(v); }
          },
          grid: { drawOnChartArea: false, drawTicks: true, tickLength: 7, color: '#333333', lineWidth: 2.6 },
          border: { display: false }
        }
      }
    },
    plugins: [panelBorder]
  });
}

for (var i = 0; i < CLUSTERS.length; i++) makePanel(i);
</script>
</body>
</html>
